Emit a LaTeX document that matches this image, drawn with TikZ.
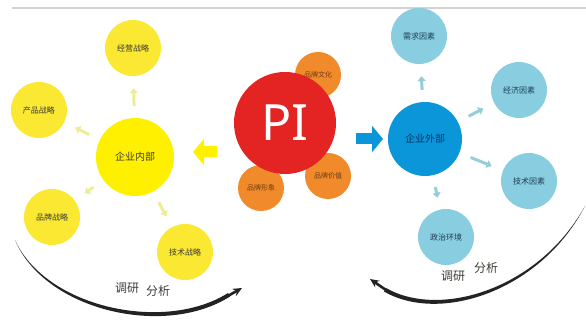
\documentclass[tikz,border=0pt]{standalone}
\usepackage{fontspec}
\newfontfamily\cjk{Noto Sans CJK SC}
\newfontfamily\pifont{Noto Sans}
\usetikzlibrary{arrows.meta}
\definecolor{ysat}{RGB}{250,232,50}
\definecolor{ycen}{RGB}{255,240,0}
\definecolor{ylite}{RGB}{238,236,150}
\definecolor{pired}{RGB}{228,35,35}
\definecolor{orng}{RGB}{240,138,42}
\definecolor{bcen}{RGB}{10,150,216}
\definecolor{bsat}{RGB}{136,205,224}
\definecolor{blite}{RGB}{150,205,218}
\definecolor{txtdark}{RGB}{60,60,55}
\definecolor{arcline}{RGB}{35,35,35}
\tikzset{
  ybub/.style={circle, fill=ysat, minimum size=56pt, inner sep=0pt, text=txtdark, font=\cjk\fontsize{8}{9}\selectfont},
  ycore/.style={circle, fill=ycen, minimum size=78pt, inner sep=0pt, text=txtdark, font=\cjk\fontsize{10}{11}\selectfont},
  obub/.style={circle, fill=orng, minimum size=46pt, inner sep=0pt, text={rgb,255:red,110;green,60;blue,20}, font=\cjk\fontsize{7}{8}\selectfont},
  pibub/.style={circle, fill=pired, minimum size=102pt, inner sep=0pt, text=white, font=\pifont\fontsize{50}{50}\selectfont},
  bbub/.style={circle, fill=bsat, minimum size=56pt, inner sep=0pt, text={rgb,255:red,30;green,60;blue,80}, font=\cjk\fontsize{8}{9}\selectfont},
  bcore/.style={circle, fill=bcen, minimum size=74pt, inner sep=0pt, text={rgb,255:red,10;green,50;blue,100}, font=\cjk\fontsize{10}{11}\selectfont},
  yarrow/.style={draw=ylite, line width=3pt, -{Triangle[length=5pt,width=8pt]}, shorten <=12pt, shorten >=12pt},
  barrow/.style={draw=blite, line width=3pt, -{Triangle[length=5pt,width=8pt]}, shorten <=12pt, shorten >=12pt},
  bigarrow/.style={line width=11pt, -{Triangle[length=11pt,width=26pt]}},
  arcbody/.style={fill=arcline},
  arctip/.style={draw=arcline, line width=2.6pt, -{Stealth[length=9pt,width=8pt]}},
  arclabel/.style={text=txtdark, inner sep=1pt, font=\cjk\fontsize{12}{13}\selectfont}
}
\begin{document}
\begin{tikzpicture}[x=1pt,y=-1pt]
\useasboundingbox (0,0) rectangle (586,320);

% top rule
\draw[gray!35, line width=1.2pt] (12,8) -- (586,8);

% internal side
\node[ycore] (inner) at (135,157) {企业内部};
\node[ybub] (ops)   at (133,48)  {经营战略};
\node[ybub] (prod)  at (39,110)  {产品战略};
\node[ybub] (brand) at (52,217)  {品牌战略};
\node[ybub] (tech)  at (185,252) {技术战略};
\foreach \s in {ops,prod,brand,tech} \draw[yarrow] (inner) -- (\s);

% PI core with its satellites
\node[obub] (otop) at (318,75)  {品牌文化};
\node[obub] (obl)  at (261,188) {品牌形象};
\node[obub] (obr)  at (328,176) {品牌价值};
\node[pibub] (pi) at (285,123) {PI};

% block arrows on either side of the core
\coordinate (ya1) at (217,152);
\coordinate (ya2) at (193,152);
\draw[bigarrow, color=ycen] (ya1) -- (ya2);
\coordinate (ba1) at (356,139);
\coordinate (ba2) at (383,139);
\draw[bigarrow, color=bcen] (ba1) -- (ba2);

% external side
\node[bcore] (outer) at (425,139) {企业外部};
\node[bbub] (need)  at (419,36)  {需求因素};
\node[bbub] (econ)  at (519,90)  {经济因素};
\node[bbub] (mkt)   at (529,181) {技术因素};
\node[bbub] (pol)   at (446,237) {政治环境};
\foreach \s in {need,econ,mkt,pol} \draw[barrow] (outer) -- (\s);

% research cycle arcs: tapered bodies, thickening toward the arrow tip
\coordinate (la0) at (15,240);
\coordinate (la1) at (242,288);
\coordinate (lt0) at (226,297);
\fill[arcbody] (la0) .. controls (45,311) and (165,338) .. (230,296.5)
               -- (228,293) .. controls (165,333) and (46,308) .. (la0) -- cycle;
\draw[arctip] (lt0) -- (la1);
\node[arclabel] (lta) at (127,288) {调研};
\node[arclabel] (ltb) at (158,291) {分析};

\coordinate (ra0) at (585,206);
\coordinate (ra1) at (370,279);
\coordinate (rt0) at (386,290);
\fill[arcbody] (ra0) .. controls (541,291) and (440,324) .. (384,291.5)
               -- (386,288) .. controls (440,319) and (539,289) .. (ra0) -- cycle;
\draw[arctip] (rt0) -- (ra1);
\node[arclabel] (rta) at (453,276) {调研};
\node[arclabel] (rtb) at (486,268) {分析};
\end{tikzpicture}
\end{document}
